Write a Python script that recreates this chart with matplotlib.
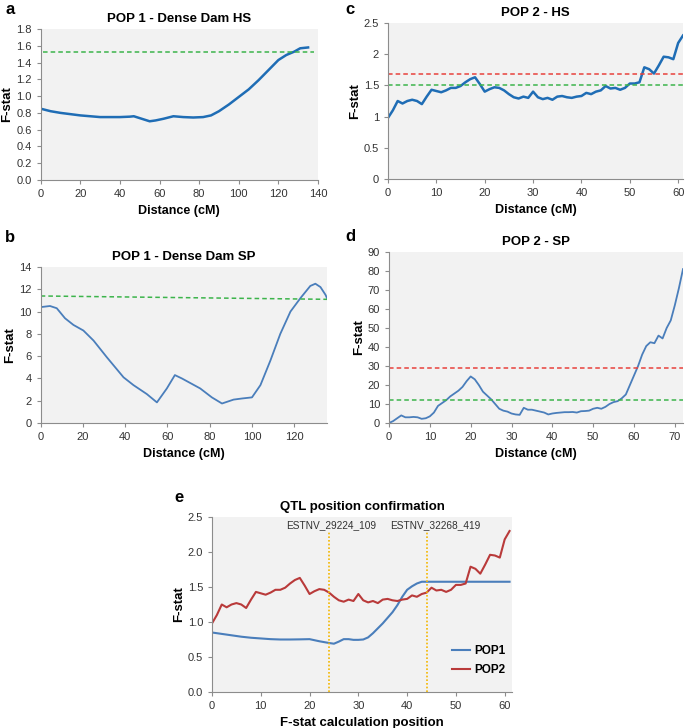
import matplotlib.pyplot as plt
import numpy as np

plt.rcParams["font.family"] = ["Liberation Sans", "DejaVu Sans"]

# panel a: POP 1 - Dense Dam HS
a_cm = [0, 5, 10, 15, 20, 25, 30, 35, 40, 45, 47, 51, 55, 58, 62, 67, 72, 77, 82,
        86, 90, 95, 100, 105, 110, 115, 120, 124, 128, 131, 135]
a_f = [0.85, 0.82, 0.80, 0.785, 0.77, 0.76, 0.75, 0.75, 0.75, 0.755, 0.76, 0.73, 0.70,
       0.71, 0.73, 0.76, 0.75, 0.745, 0.75, 0.77, 0.82, 0.90, 0.99, 1.08, 1.19, 1.31,
       1.43, 1.49, 1.53, 1.57, 1.58]
a_thr = 1.52

# panel b: POP 1 - Dense Dam SP
b_cm = [0, 4.4, 7.6, 11.5, 15.5, 20.2, 25, 31.3, 39.2, 43.9, 50.2, 55, 59.7, 63.5,
        66.8, 75.5, 81, 85.8, 91.3, 95.3, 100, 104, 108.7, 113.4, 118.2, 122.9, 127.6,
        130, 132.4, 134.8, 135.5]
b_f = [10.4, 10.5, 10.3, 9.4, 8.8, 8.3, 7.4, 5.9, 4.1, 3.4, 2.6, 1.85, 3.1, 4.3,
       4.0, 3.1, 2.3, 1.75, 2.1, 2.2, 2.3, 3.4, 5.6, 8.0, 10.0, 11.2, 12.3, 12.5, 12.2,
       11.5, 11.2]
b_thr = [11.4, 11.1]

# panel c / e red: POP2 HS, one value per position 0..61
pop2_hs = [0.98, 1.10, 1.25, 1.21, 1.25, 1.27, 1.25, 1.20, 1.32, 1.43, 1.41, 1.39,
           1.42, 1.46, 1.46, 1.49, 1.55, 1.60, 1.63, 1.52, 1.40, 1.44, 1.47, 1.46,
           1.42, 1.36, 1.31, 1.29, 1.32, 1.30, 1.40, 1.31, 1.28, 1.30, 1.27, 1.32,
           1.33, 1.31, 1.30, 1.32, 1.33, 1.38, 1.36, 1.40, 1.42, 1.49, 1.45, 1.46,
           1.43, 1.46, 1.53, 1.53, 1.55, 1.79, 1.76, 1.69, 1.82, 1.96, 1.95, 1.92,
           2.18, 2.30]
c_thr_red = 1.68
c_thr_green = 1.51

# panel d: POP2 SP, positions 0..72
pop2_sp = [0, 1, 2.5, 4, 3, 3, 3.2, 3, 2.2, 2.5, 3.5, 5.5, 9, 10.5, 12, 14, 15.5,
           17, 19, 22, 24.5, 23, 20, 16.5, 14.5, 12.5, 10, 7.5, 6.5, 6, 5, 4.5, 4.3,
           8, 7, 7, 6.5, 6, 5.5, 4.5, 5, 5.3, 5.5, 5.7, 5.7, 5.8, 5.5, 6.2, 6.3, 6.5,
           7.5, 8, 7.5, 8.5, 10, 11, 11.5, 13, 15, 20, 25, 30, 36, 40.5, 42.5, 42,
           46, 44.5, 50, 54, 62, 71, 81]
d_thr_red = 29
d_thr_green = 12

# panel e: POP1 on calculation positions
e_pos1 = [0, 2, 4, 6, 8, 10, 12, 14, 16, 18, 20, 22, 24, 25, 26, 27, 28, 29, 30, 31,
          32, 33, 34, 35, 36, 37, 38, 39, 40, 41, 42, 43, 61]
e_pop1 = [0.85, 0.83, 0.81, 0.79, 0.775, 0.765, 0.755, 0.75, 0.75, 0.752, 0.755, 0.725,
          0.70, 0.69, 0.72, 0.755, 0.755, 0.745, 0.745, 0.75, 0.78, 0.84, 0.91, 0.98,
          1.06, 1.14, 1.24, 1.36, 1.46, 1.51, 1.55, 1.575, 1.575]
markers = ["ESTNV_29224_109", "ESTNV_32268_419"]
marker_pos = [24, 44]

W, H = 685, 728
BG = "#f2f2f2"
DARK_BLUE = "#1f6db5"
MID_BLUE = "#4a7ebb"
RED_LINE = "#b93a3a"
GREEN = "#3cb44b"
RED_DASH = "#e8413c"


def box(x0, y0, x1, y1):
    return [x0 / W, 1 - y1 / H, (x1 - x0) / W, (y1 - y0) / H]


def style(ax, title):
    ax.set_facecolor(BG)
    for s in ["top", "right"]:
        ax.spines[s].set_visible(False)
    for s in ["left", "bottom"]:
        ax.spines[s].set_color("#8c8c8c")
        ax.spines[s].set_linewidth(0.8)
    ax.tick_params(colors="#8c8c8c", labelcolor="#333333", labelsize=8, length=3, width=0.8)
    ax.set_title(title, fontsize=9.5, fontweight="bold", pad=5)
    ax.set_ylabel("F-stat", fontsize=9.5, fontweight="bold", labelpad=2)


fig = plt.figure(figsize=(W / 100, H / 100), dpi=100)

# a
ax = fig.add_axes(box(40.7, 29, 318, 180))
style(ax, "POP 1 - Dense Dam HS")
ax.plot(a_cm, a_f, color=DARK_BLUE, lw=1.8)
ax.plot([1, 138], [a_thr, a_thr], color=GREEN, lw=1.1, ls=(0, (3, 2)))
ax.set_xlim(0, 140)
ax.set_ylim(0, 1.8)
ax.set_yticks(np.arange(0, 1.81, 0.2))
ax.set_yticklabels([f"{v:.1f}" for v in np.arange(0, 1.81, 0.2)])
ax.set_xticks(range(0, 141, 20))
ax.set_xlabel("Distance (cM)", fontsize=9, fontweight="bold")

# c
ax = fig.add_axes(box(388, 23, 683, 179))
style(ax, "POP 2 - HS")
ax.plot(range(len(pop2_hs)), pop2_hs, color=DARK_BLUE, lw=1.8)
ax.axhline(c_thr_red, color=RED_DASH, lw=1.1, ls=(0, (3, 2)))
ax.axhline(c_thr_green, color=GREEN, lw=1.1, ls=(0, (3, 2)))
ax.set_xlim(0, 61)
ax.set_ylim(0, 2.5)
ax.set_yticks([0, 0.5, 1, 1.5, 2, 2.5])
ax.set_yticklabels(["0", "0.5", "1", "1.5", "2", "2.5"])
ax.set_xticks(range(0, 61, 10))
ax.set_xlabel("Distance (cM)", fontsize=9, fontweight="bold")

# b
ax = fig.add_axes(box(40.7, 267, 327, 423))
style(ax, "POP 1 - Dense Dam SP")
ax.plot(b_cm, b_f, color=MID_BLUE, lw=1.3)
ax.plot([0, 135.5], b_thr, color=GREEN, lw=1.1, ls=(0, (3, 2)))
ax.set_xlim(0, 135.5)
ax.set_ylim(0, 14)
ax.set_yticks(range(0, 15, 2))
ax.set_xticks(range(0, 121, 20))
ax.set_xlabel("Distance (cM)", fontsize=9, fontweight="bold")

# d
ax = fig.add_axes(box(389, 252, 683, 423))
style(ax, "POP 2 - SP")
ax.plot(range(len(pop2_sp)), pop2_sp, color=MID_BLUE, lw=1.3)
ax.axhline(d_thr_red, color=RED_DASH, lw=1.1, ls=(0, (3, 2)))
ax.axhline(d_thr_green, color=GREEN, lw=1.1, ls=(0, (3, 2)))
ax.set_xlim(0, 72)
ax.set_ylim(0, 90)
ax.set_yticks(range(0, 91, 10))
ax.set_xticks(range(0, 71, 10))
ax.set_xlabel("Distance (cM)", fontsize=9, fontweight="bold")

# e
ax = fig.add_axes(box(212, 517, 512, 692))
style(ax, "QTL position confirmation")
ax.plot(e_pos1, e_pop1, color=MID_BLUE, lw=1.5, label="POP1")
ax.plot(range(len(pop2_hs)), pop2_hs, color=RED_LINE, lw=1.5, label="POP2")
for name, p, tx in zip(markers, marker_pos, [24.5, 45.8]):
    ax.plot([p, p], [0, 2.28], color="#f5b800", lw=1.2, ls=(0, (1, 1.2)))
    ax.text(tx, 2.39, name, ha="center", va="center", fontsize=7.3, color="#333333")
ax.set_xlim(0, 61.5)
ax.set_ylim(0, 2.5)
ax.set_yticks(np.arange(0, 2.51, 0.5))
ax.set_yticklabels([f"{v:.1f}" for v in np.arange(0, 2.51, 0.5)])
ax.set_xticks(range(0, 61, 10))
ax.set_xlabel("F-stat calculation position", fontsize=9.5, fontweight="bold")
leg = ax.legend(loc="center left", frameon=False, fontsize=8.5, handlelength=1.5,
                handletextpad=0.4, labelspacing=0.55, bbox_to_anchor=(0.765, 0.18))
for t in leg.get_texts():
    t.set_fontweight("bold")

for letter, x, y in [("a", 5, 10), ("c", 345, 10), ("b", 5, 238), ("d", 345, 237), ("e", 174, 498)]:
    fig.text(x / W, 1 - y / H, letter, fontsize=12, fontweight="bold", va="center", ha="left")

fig.savefig("out.png", dpi=100)
